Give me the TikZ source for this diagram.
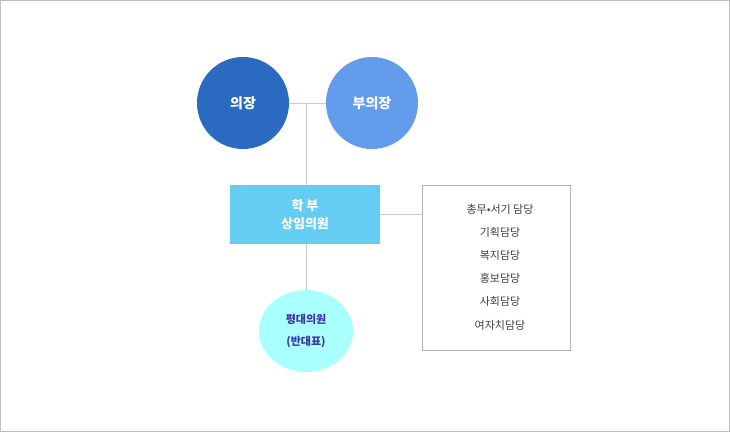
\documentclass[tikz,border=0pt]{standalone}
\usepackage{fontspec}
\usetikzlibrary{shapes.geometric}
\setmainfont{Noto Sans CJK KR}
\begin{document}
\begin{tikzpicture}[x=1pt,y=-1pt,
  circ/.style={circle,minimum size=92pt,inner sep=0pt,text=white,font=\fontsize{14}{16}\selectfont\bfseries},
  conn/.style={draw=black!20,line width=0.8pt}]
\useasboundingbox (0,0) rectangle (730,432);
\draw[black!25] (0.5,0.5) rectangle (729.5,431.5);
\draw[conn] (289,103) -- (327,103);
\coordinate (j) at (306,103);
\node[circ,fill={rgb,255:red,42;green,106;blue,192}] (a) at (243,103) {의장};
\node[circ,fill={rgb,255:red,100;green,156;blue,236}] (b) at (372,103) {부의장};
\node[fill={rgb,255:red,102;green,205;blue,242},minimum width=150pt,minimum height=59pt,inner sep=0pt,text=white,align=center,font=\fontsize{13}{18}\selectfont\bfseries] (c) at (305,214.5) {학 부\\상임의원};
\node[ellipse,fill={rgb,255:red,170;green,255;blue,255},minimum width=94pt,minimum height=82pt,inner sep=0pt,align=center,text={rgb,255:red,60;green,50;blue,170},font=\fontsize{11}{22}\selectfont\bfseries] (d) at (306,331) {평대의원\\(반대표)};
\node[draw=black!30,fill=white,minimum width=148pt,minimum height=165pt,inner sep=0pt] (e) at (496,267.5) {};
\begin{scope}[every node/.style={font=\fontsize{11}{12}\selectfont,text=black!75}]
\node (l1) at (500,209) {총무•서기 담당};
\node (l2) at (500,232) {기획담당};
\node (l3) at (500,255) {복지담당};
\node (l4) at (500,278) {홍보담당};
\node (l5) at (500,301) {사회담당};
\node (l6) at (500,325) {여자치담당};
\end{scope}
\draw[conn] (j) -- (j |- c.north);
\draw[conn] (j |- c.south) -- (j |- d.north);
\draw[conn] (c.east) -- (c.east -| e.west);
\end{tikzpicture}
\end{document}
